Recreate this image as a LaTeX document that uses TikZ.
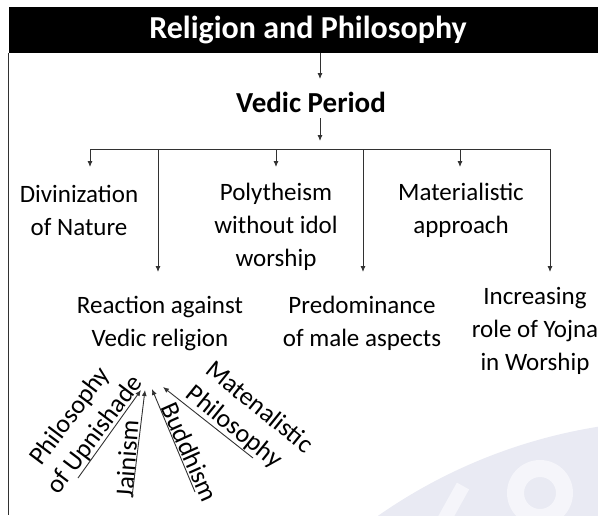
\documentclass[tikz,border=0pt]{standalone}
\usepackage{fontspec}
\setmainfont{Carlito}
\usepackage{tikz}
\usetikzlibrary{arrows.meta, positioning, calc}
\definecolor{cLine}{RGB}{50,50,50}
\definecolor{cMark}{RGB}{233,234,243}
\definecolor{cMarkLight}{RGB}{245,245,250}
\tikzset{
	headbar/.style ={rectangle, fill=black, text=white, inner sep=0pt, minimum width=589pt, minimum height=46pt, font=\bfseries\fontsize{32}{38}\selectfont},
	period/.style  ={inner sep=0pt, font=\bfseries\fontsize{29}{35}\selectfont},
	item/.style    ={align=center, inner sep=0pt, font=\fontsize{25}{33}\selectfont},
	slant/.style   ={align=center, inner sep=0pt, font=\fontsize{26}{31}\selectfont},
	sig/.style     ={-{Latex[length=6pt, width=5pt]}, cLine, line width=0.9pt},
	bothsig/.style ={{Latex[length=6pt, width=5pt]}-{Latex[length=6pt, width=5pt]}, cLine, line width=0.9pt},
}
\begin{document}
\begin{tikzpicture}[x=1pt, y=-1pt]
	\useasboundingbox (0,0) rectangle (598,515);
	% watermark
	\begin{scope}
		\clip (0,0) rectangle (598,515);
		\fill[cMark] (683,953) circle[radius=533pt];
		\fill[cMarkLight, even odd rule] (540,493) circle[radius=33pt] (540,493) circle[radius=16pt];
		\draw[cMarkLight, line width=14pt] (463,486) -- (443,522);
	\end{scope}
	% title and period
	\node[headbar] (title) at (303.5,30) {\hspace*{9pt}Religion and Philosophy};
	\coordinate (frameEnd) at (9,515);
	\draw[cLine, line width=0.9pt] (title.south west) -- (title.south west |- frameEnd);
	\node[period] (vedic) at (311,102) {Vedic Period};
	\coordinate (vedicIn) at (320,79);
	\coordinate (vedicOut) at (320,118);
	\coordinate (busIn) at (320,141);
	\draw[sig] (title.south -| vedicIn) -- (vedicIn);
	\draw[sig] (vedicOut) -- (busIn);
	% bus with six branches
	\coordinate (busL) at (90,149);
	\coordinate (busR) at (550,149);
	\coordinate (tipA) at (90,167);
	\coordinate (tipF) at (550,272);
	\draw[bothsig] (tipA) -- (busL) -- (busR) -- (tipF);
	\foreach \n/\x/\y in {B/158/272, C/276/167, D/363/272, E/460/167} {
		\coordinate (top\n) at (\x,149);
		\coordinate (tip\n) at (\x,\y);
		\draw[sig] (top\n) -- (tip\n);
	}
	% first row
	\node[item] (divin) at (79,210) {Divinization\\of Nature};
	\node[item] (poly) at (276,227) {Polytheism\\without idol\\worship};
	\node[item] (mater) at (461,210) {Materialistic\\approach};
	% second row
	\node[item] (react) at (160,323) {Reaction against\\Vedic religion};
	\node[item] (predom) at (362,323) {Predominance\\of male aspects};
	\node[item] (incr) at (535,331) {Increasing\\role of Yojna\\in Worship};
	% reactions
	\node[slant, rotate=53] (upni) at (83,426) {Philosophy\\of Upnishade};
	\node[slant, rotate=86] (jain) at (127,459) {Jainism};
	\node[slant, rotate=-66] (budd) at (190,452) {Buddhism};
	\node[slant, rotate=-39, align=left] (matl) at (249,420) {Matenalistic\\Philosophy};
	\foreach \n/\a/\b/\c/\d in {1/78/478/141/390, 2/132/497/145/390, 3/195/492/152/389, 4/253/458/163/387} {
		\coordinate (from\n) at (\a,\b);
		\coordinate (to\n) at (\c,\d);
		\draw[sig] (from\n) -- (to\n);
	}
\end{tikzpicture}
\end{document}
